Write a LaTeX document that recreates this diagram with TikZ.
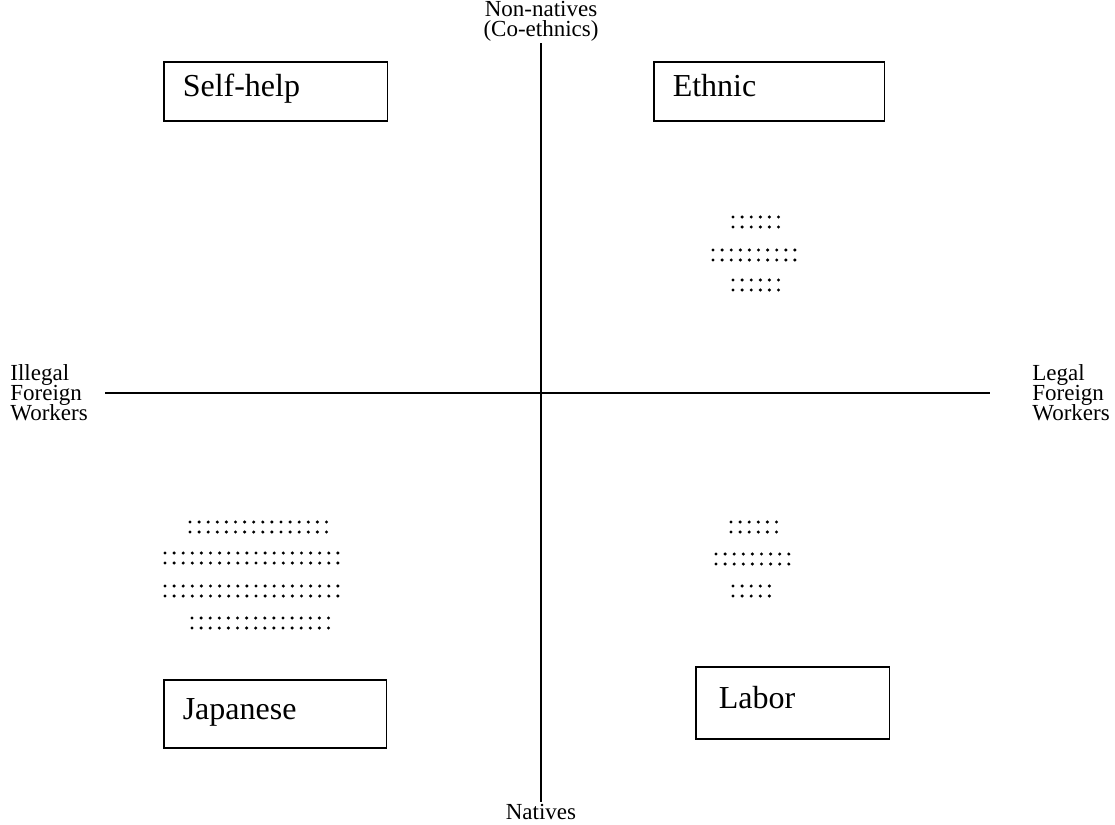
\documentclass[tikz,border=0pt]{standalone}
\usepackage{fontspec}
\setmainfont{Liberation Serif}
\usetikzlibrary{positioning}

% two rows of dots, n columns, starting at (x0,y0)
\newcommand{\dotpairs}[3]{%
  \foreach \i in {1,...,#3} {
    \fill ({#1+(\i-1)*9.1},#2) circle [radius=0.85pt];
    \fill ({#1+(\i-1)*9.1},{#2+10}) circle [radius=0.85pt];
  }}
\newcommand{\tightlines}{\lineskiplimit=-20pt\relax}

\tikzset{
  quadbox/.style={draw, line width=0.75pt, rectangle, align=left,
    font=\fontsize{16}{19}\selectfont, inner xsep=9.5pt,
    text height=11pt, text depth=6pt},
  axislabel/.style={font={\fontsize{11.5}{10}\selectfont\tightlines},
    inner sep=1pt}
}

\begin{document}
\begin{tikzpicture}[x=0.5pt, y=-0.5pt]
\useasboundingbox (0,0) rectangle (1115,825);

% Axis labels
\node[axislabel, align=center] (nonnat) at (541,21) {Non-natives\\(Co-ethnics)};
\node[axislabel] (nat) at (541,812) {Natives};
\node[axislabel, align=left, anchor=west] (illegal) at (8,393) {Illegal\\Foreign\\Workers};
\node[axislabel, align=left, anchor=west] (legal) at (1030,393) {Legal\\Foreign\\Workers};
\coordinate (hleft) at (105,393);
\coordinate (hright) at (990,393);

% Axes
\draw[line width=1pt] (nonnat.south) -- (nat.north);
\draw[line width=1pt] (hleft) -- (hright);

% Quadrant boxes
\node[quadbox, minimum height=29.5pt, text width=92.75pt] (selfhelp) at (275.5,91.5) {Self-help};
\node[quadbox, minimum height=29.5pt, text width=96.25pt] (ethnic) at (769,91.5) {Ethnic};
\node[quadbox, minimum height=34pt, text width=92.25pt] (japanese) at (275,714) {Japanese};
\node[quadbox, minimum height=36pt, text width=73.75pt, inner xsep=11.5pt] (labor) at (792.5,703) {Labor};

% Dot clusters
\dotpairs{733}{217}{6}
\dotpairs{713}{250}{10}
\dotpairs{733}{280}{6}

\dotpairs{731}{522}{6}
\dotpairs{716}{554}{9}
\dotpairs{733}{586}{5}

\dotpairs{190}{522}{16}
\dotpairs{165}{553}{20}
\dotpairs{165}{586}{20}
\dotpairs{192}{618}{16}
\end{tikzpicture}
\end{document}
